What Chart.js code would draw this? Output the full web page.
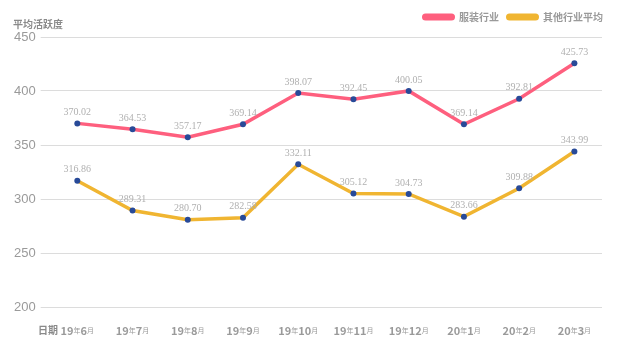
<!DOCTYPE html>
<html>
<head>
<meta charset="utf-8">
<script src="https://cdn.jsdelivr.net/npm/chart.js@4"></script>
<style>
  html, body { margin: 0; padding: 0; background: #fff; }
  #wrap { width: 628px; height: 346px; }
</style>
</head>
<body>
<div id="wrap"><canvas id="trendChart" width="628" height="346"></canvas></div>
<script>
const months = ["19年6月", "19年7月", "19年8月", "19年9月", "19年10月", "19年11月", "19年12月", "20年1月", "20年2月", "20年3月"];
const apparel = [370.02, 364.53, 357.17, 369.14, 398.07, 392.45, 400.05, 369.14, 392.81, 425.73];
const others = [316.86, 289.31, 280.70, 282.58, 332.11, 305.12, 304.73, 283.66, 309.88, 343.99];
const yTicks = [200, 250, 300, 350, 400, 450];

const CJK = '"Noto Sans CJK SC", "Noto Sans", sans-serif';
const grey = "#9a9a9a";

// value labels above each point
const valueLabels = {
  id: "valueLabels",
  afterDatasetsDraw(chart) {
    const ctx = chart.ctx;
    ctx.save();
    ctx.font = '10px "Liberation Serif", "DejaVu Serif", serif';
    ctx.fillStyle = "#b0b0b0";
    ctx.textAlign = "center";
    ctx.textBaseline = "middle";
    chart.data.datasets.forEach((ds, i) => {
      chart.getDatasetMeta(i).data.forEach((pt, j) => {
        ctx.fillText(ds.data[j].toFixed(2), pt.x, pt.y - 11);
      });
    });
    ctx.restore();
  }
};

// x labels with small 年/月, axis caption, y title and legend
const axisText = {
  id: "axisText",
  afterDraw(chart) {
    const ctx = chart.ctx;
    const x = chart.scales.x;
    ctx.save();
    ctx.fillStyle = grey;
    ctx.textBaseline = "middle";
    const y = 330;
    months.forEach((m, i) => {
      const parts = m.match(/(\d+)年(\d+)月/);
      const segs = [
        [parts[1], "bold 11px " + CJK],
        ["年", "7px " + CJK],
        [parts[2], "bold 11px " + CJK],
        ["月", "7px " + CJK]
      ];
      let w = 0;
      segs.forEach(s => { ctx.font = s[1]; w += ctx.measureText(s[0]).width; });
      let cx = x.getPixelForValue(i) - w / 2;
      ctx.textAlign = "left";
      segs.forEach(s => {
        ctx.font = s[1];
        ctx.fillText(s[0], cx, y + 0.5);
        cx += ctx.measureText(s[0]).width;
      });
    });
    ctx.font = "bold 10px " + CJK;
    ctx.fillStyle = "#8a8a8a";
    ctx.textAlign = "left";
    ctx.fillText("日期", 38, y);
    ctx.fillText("平均活跃度", 13, 24);

    // legend, right aligned
    ctx.font = "bold 10px " + CJK;
    let right = 603;
    const ly = 17;
    chart.data.datasets.slice().reverse().forEach(ds => {
      const tw = ctx.measureText(ds.label).width;
      const tx = right - tw;
      ctx.fillStyle = grey;
      ctx.fillText(ds.label, tx, ly);
      const sx = tx - 4 - 33;
      ctx.fillStyle = ds.borderColor;
      ctx.beginPath();
      ctx.roundRect(sx, ly - 3.5, 33, 7, 3.5);
      ctx.fill();
      right = sx - 7;
    });
    ctx.restore();
  }
};

new Chart(document.getElementById("trendChart"), {
  type: "line",
  data: {
    labels: months,
    datasets: [
      {
        label: "服装行业",
        data: apparel,
        borderColor: "#fe5f7e",
        backgroundColor: "#fe5f7e",
        borderWidth: 3.5,
        pointBackgroundColor: "#284a98",
        pointBorderWidth: 0,
        pointRadius: 3,
        tension: 0
      },
      {
        label: "其他行业平均",
        data: others,
        borderColor: "#f0b531",
        backgroundColor: "#f0b531",
        borderWidth: 3.5,
        pointBackgroundColor: "#284a98",
        pointBorderWidth: 0,
        pointRadius: 3,
        tension: 0
      }
    ]
  },
  options: {
    responsive: false,
    animation: false,
    layout: { padding: { top: 37, right: 26, bottom: 39, left: 9 } },
    plugins: {
      tooltip: { enabled: false },
      legend: { display: false }
    },
    scales: {
      x: {
        display: false,
        offset: true
      },
      y: {
        min: 200,
        max: 450,
        afterBuildTicks: axis => { axis.ticks = yTicks.map(v => ({ value: v })); },
        border: { display: false },
        grid: { color: "#dcdcdc", lineWidth: 1, tickLength: 9 },
        ticks: {
          color: grey,
          padding: 5,
          font: { family: '"Liberation Sans", Arial, sans-serif', size: 13 }
        }
      }
    }
  },
  plugins: [valueLabels, axisText]
});
</script>
</body>
</html>
